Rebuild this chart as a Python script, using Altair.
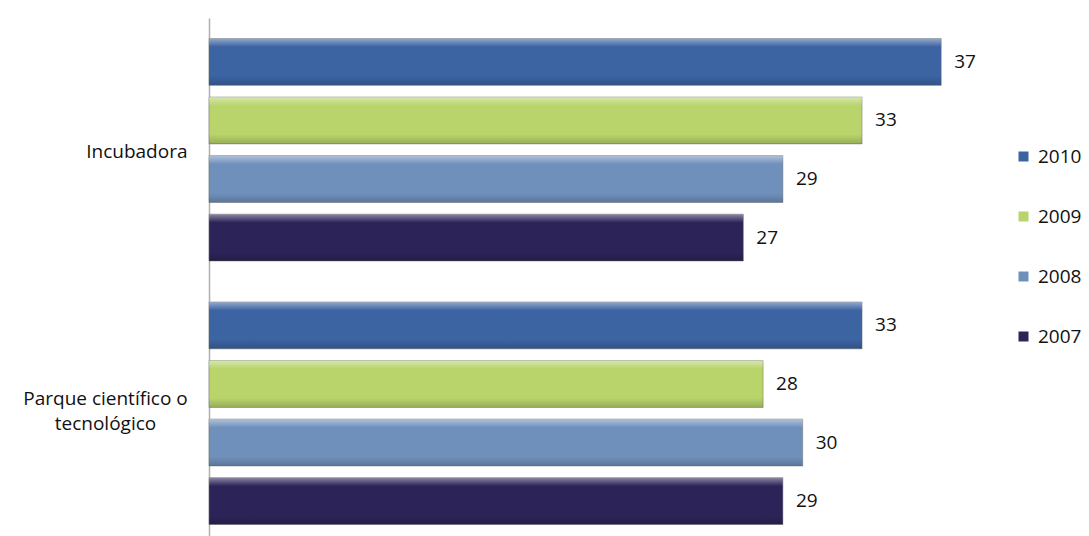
import altair as alt
import pandas as pd

categories = ["Incubadora", "Parque científico o tecnológico"]
years = ["2010", "2009", "2008", "2007"]
incubadora = [37, 33, 29, 27]
parque = [33, 28, 30, 29]
colors = ["#3C63A2", "#B8D46B", "#7090BC", "#2C2458"]

rows = []
for cat, vals in zip(categories, [incubadora, parque]):
    for y, v in zip(years, vals):
        rows.append({"cat": cat, "year": y, "value": v})
df = pd.DataFrame(rows)

FONT = "Open Sans"
is_inc = "datum.label == 'Incubadora'"

y_enc = alt.Y(
    "cat:N",
    sort=categories,
    scale=alt.Scale(paddingInner=0, paddingOuter=0, range=[0, 527]),
    axis=alt.Axis(
        title=None,
        ticks=False,
        domain=True,
        domainColor="#b0b0b0",
        domainWidth=1.5,
        labelFont=FONT,
        labelFontSize=19,
        labelColor="#111111",
        labelLineHeight=25,
        labelAlign=alt.condition(is_inc, alt.value("right"), alt.value("center")),
        labelPadding=alt.condition(is_inc, alt.value(22), alt.value(104)),
        labelOffset=alt.condition(is_inc, alt.value(2), alt.value(-14)),
        labelExpr="datum.label == 'Parque científico o tecnológico' ? ['Parque científico o', 'tecnológico'] : datum.label",
    ),
)
yoff = alt.YOffset(
    "year:N",
    sort=years,
    scale=alt.Scale(paddingInner=0.2, paddingOuter=0.35),
)
x_enc = alt.X(
    "value:Q",
    scale=alt.Scale(domain=[0, 38], nice=False),
    axis=None,
)

bars = alt.Chart(df).mark_bar(stroke="#6b6b6b", strokeWidth=0.8, strokeOpacity=0.6).encode(
    x=x_enc,
    y=y_enc,
    yOffset=yoff,
    color=alt.Color(
        "year:N",
        sort=years,
        scale=alt.Scale(domain=years, range=colors),
        legend=alt.Legend(
            title=None,
            orient="none",
            legendX=805,
            legendY=129,
            symbolType="square",
            symbolSize=100,
            symbolStrokeWidth=0,
            labelFont=FONT,
            labelFontSize=19,
            labelColor="#111111",
            rowPadding=40,
            labelOffset=5,
        ),
    ),
)

shine = alt.Chart(df).mark_bar(
    fill=alt.Gradient(
        gradient="linear",
        x1=0, y1=0, x2=0, y2=1,
        stops=[
            alt.GradientStop(color="rgba(255,255,255,0.45)", offset=0),
            alt.GradientStop(color="rgba(255,255,255,0.0)", offset=0.18),
            alt.GradientStop(color="rgba(0,0,0,0.0)", offset=0.8),
            alt.GradientStop(color="rgba(0,0,0,0.18)", offset=1),
        ],
    )
).encode(x=x_enc, y=y_enc, yOffset=yoff)

labels = alt.Chart(df).mark_text(
    align="left", baseline="middle", dx=13, font=FONT, fontSize=19, color="#111111"
).encode(x=x_enc, y=y_enc, yOffset=yoff, text="value:Q")

chart = (
    alt.layer(bars, shine, labels)
    .properties(
        width=752,
        height=518,
        autosize=alt.AutoSizeParams(type="none"),
        padding={"left": 209, "top": 18, "right": 128, "bottom": 0},
        background="white",
    )
    .configure_view(stroke=None)
)

chart.save("out.html", embed_options={"renderer": "svg", "actions": False})
